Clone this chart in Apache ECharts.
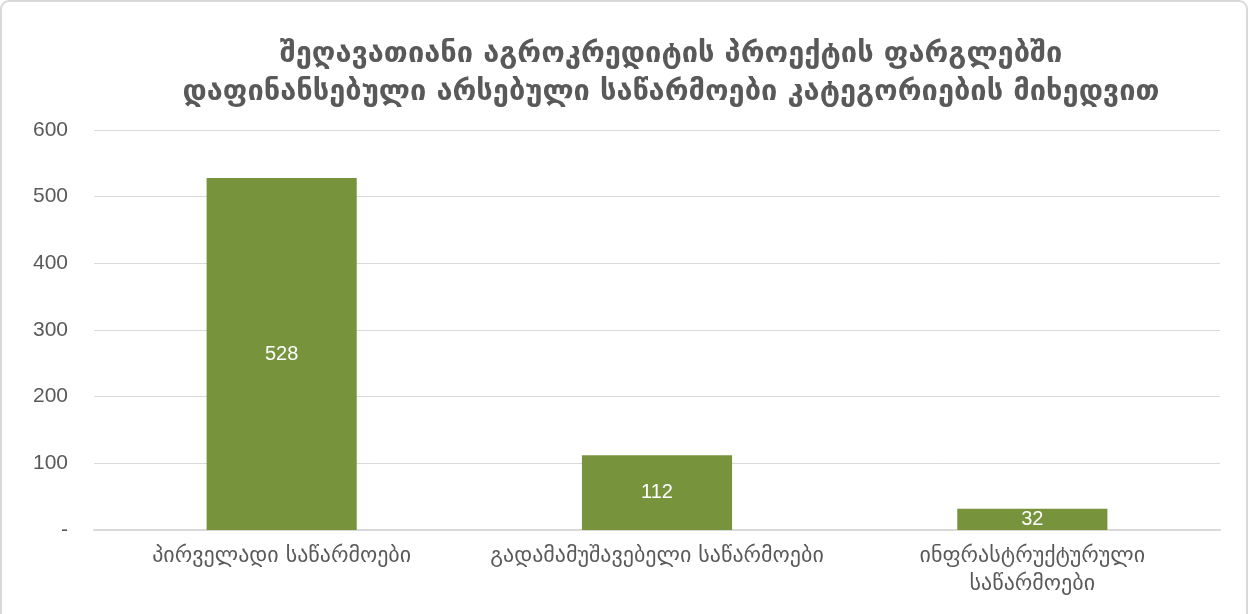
<!DOCTYPE html>
<html><head><meta charset="utf-8">
<script src="https://cdn.jsdelivr.net/npm/echarts@6/dist/echarts.min.js"></script>
<style>html,body{margin:0;padding:0;background:#fff}#c{width:1250px;height:614px}</style>
</head><body><div id="c"></div>
<script>
const titleText = 'შეღავათიანი აგროკრედიტის პროექტის ფარგლებში\nდაფინანსებული არსებული საწარმოები კატეგორიების მიხედვით';
const categories = ['პირველადი საწარმოები', 'გადამამუშავებელი საწარმოები', 'ინფრასტრუქტურული\nსაწარმოები'];
const values = [528, 112, 32];
const yTicks = [0, 100, 200, 300, 400, 500, 600];
const font = '"DejaVu Sans", "Noto Sans", sans-serif';
const chart = echarts.init(document.getElementById('c'));
chart.setOption({
  animation: false,
  graphic: [{type:'rect', shape:{x:1,y:1,width:1246,height:640,r:8}, style:{fill:'none', stroke:'#d9d9d9', lineWidth:2}, silent:true}],
  title: {text: titleText, left: 666, textAlign: 'center', top: 30, textStyle:{color:'#595959', fontSize:29, fontWeight:'bold', fontFamily:font, lineHeight:38}},
  grid: {left: 94, right: 30, top: 130, bottom: 84, containLabel:false},
  xAxis: {type:'category', data: categories,
    axisLine:{lineStyle:{color:'#d9d9d9', width:2}}, axisTick:{show:false},
    axisLabel:{color:'#595959', fontSize:22, fontFamily:font, margin:12, lineHeight:28, interval:0}},
  yAxis: {type:'value', min:0, max:600, interval:100,
    axisLine:{show:false}, axisTick:{show:false},
    splitLine:{lineStyle:{color:'#d9d9d9', width:1}},
    axisLabel:{color:'#595959', fontSize:21, fontFamily:'"Liberation Sans", Arial, sans-serif', margin:26,
      formatter: v => v === 0 ? '-' : String(v)}},
  series: [{type:'bar', data: values, barWidth:'40%', itemStyle:{color:'#77933C'},
    label:{show:true, position:'inside', color:'#fff', fontSize:20, fontFamily:'"Liberation Sans", Arial, sans-serif'}}]
});
</script></body></html>
